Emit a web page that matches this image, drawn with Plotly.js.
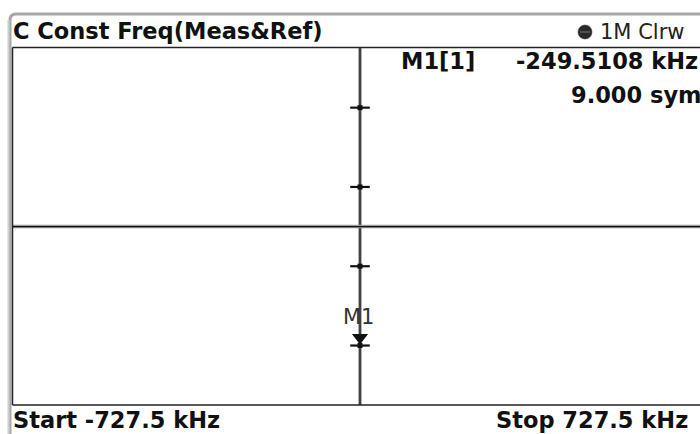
<!DOCTYPE html>
<html>
<head>
<meta charset="utf-8">
<script src="https://cdn.plot.ly/plotly-3.0.1.min.js"></script>
<style>html,body{margin:0;padding:0;background:#fff;}#chart{width:700px;height:434px;}</style>
</head>
<body>
<div id="chart"></div>
<script>
// Frequency span (kHz)
const spanStart = -727.5;
const spanStop = 727.5;
// Trace (symbol decision path) values
const traceX = [0, 0, 0, 0, 0, 0];
const traceY = [4.53, 3, 1, -1, -3, -4.5];
// Symbol points
const symbolX = [0, 0, 0, 0];
const symbolY = [3, 1, -1, -3];
// Marker M1
const markerName = ['M1'];
const markerX = [0];
const markerY = [-2.8];
const markerFreq = '-249.5108 kHz';
const markerSym = '9.000 sym';

// pixel helpers for frame decoration (plot area 12..700 x 47..405)
const L = 12, R = 700, T = 47, B = 405;
const px = v => (v - L) / (R - L);
const py = v => (B - v) / (B - T);

const font = 'DejaVu Sans, Verdana, sans-serif';

const traces = [
  {x: traceX, y: traceY, mode: 'lines', line: {color: '#9a9a9a', width: 3.5}, hoverinfo: 'skip', showlegend: false},
  {x: traceX, y: traceY, mode: 'lines', line: {color: '#111', width: 1.3}, hoverinfo: 'skip', showlegend: false},
  {x: symbolX, y: symbolY, mode: 'markers', marker: {symbol: 'line-ew-open', size: 14, color: '#111', line: {color: '#111', width: 2.2}}, showlegend: false},
  {x: symbolX, y: symbolY, mode: 'markers', marker: {symbol: 'square', size: 5, color: '#111'}, showlegend: false},
  {x: markerX, y: markerY, mode: 'markers', marker: {symbol: 'triangle-down', size: 14, color: '#111'}, showlegend: false}
];

const layout = {
  width: 700, height: 434,
  margin: {l: L, r: 700 - R, t: T, b: 434 - B, pad: 0},
  paper_bgcolor: '#fff', plot_bgcolor: '#fff',
  showlegend: false,
  xaxis: {range: [spanStart, spanStart + (spanStop - spanStart) * (R - L) / 696], showgrid: false, zeroline: false, showticklabels: false, ticks: '', showline: false, fixedrange: true},
  yaxis: {range: [-4.5, 4.53], showgrid: false, zeroline: false, showticklabels: false, ticks: '', showline: false, fixedrange: true},
  shapes: [
    // horizontal centre line
    {type: 'line', xref: 'paper', yref: 'y', x0: 0, x1: 1, y0: 0, y1: 0, line: {color: '#9a9a9a', width: 3.5}},
    {type: 'line', xref: 'paper', yref: 'y', x0: 0, x1: 1, y0: 0, y1: 0, line: {color: '#111', width: 1.3}},
    // outer grey frame: left strip + rounded top
    {type: 'path', xref: 'paper', yref: 'paper', path: `M ${px(10)} ${py(434)} L ${px(10)} ${py(20)} Q ${px(10)} ${py(14)} ${px(16)} ${py(14)} L ${px(702)} ${py(14)}`, line: {color: '#a8a8a8', width: 3}},
    {type: 'line', xref: 'paper', yref: 'paper', x0: px(8.5), x1: px(8.5), y0: py(20), y1: py(434), line: {color: '#d0d0d0', width: 2}},
    // plot frame lines
    {type: 'line', xref: 'paper', yref: 'paper', x0: px(12.5), x1: px(702), y0: py(47.5), y1: py(47.5), line: {color: '#222', width: 1.5}},
    {type: 'line', xref: 'paper', yref: 'paper', x0: px(12.5), x1: px(702), y0: py(405), y1: py(405), line: {color: '#222', width: 1.5}},
    {type: 'line', xref: 'paper', yref: 'paper', x0: px(12.5), x1: px(12.5), y0: py(47.5), y1: py(405), line: {color: '#222', width: 1.5}},
    // trace indicator dot
    {type: 'circle', xref: 'paper', yref: 'paper', x0: px(578), x1: px(592), y0: py(25), y1: py(39), fillcolor: '#2a2a2a', line: {color: '#2a2a2a', width: 0.5}},
    {type: 'line', xref: 'paper', yref: 'paper', x0: px(580), x1: px(590), y0: py(32), y1: py(32), line: {color: '#777', width: 1}}
  ],
  annotations: [
    {xref: 'paper', yref: 'paper', x: px(11), y: py(31), xanchor: 'left', yanchor: 'middle', showarrow: false, text: 'C Const Freq(Meas&amp;Ref)', font: {family: font, size: 22.5, color: '#111', weight: 'bold'}},
    {xref: 'paper', yref: 'paper', x: px(598), y: py(32), xanchor: 'left', yanchor: 'middle', showarrow: false, text: '1M Clrw', font: {family: font, size: 21, color: '#222'}},
    {xref: 'paper', yref: 'paper', x: px(399), y: py(61), xanchor: 'left', yanchor: 'middle', showarrow: false, text: 'M1[1]', font: {family: font, size: 22.5, color: '#111', weight: 'bold'}},
    {xref: 'paper', yref: 'paper', x: px(514), y: py(61), xanchor: 'left', yanchor: 'middle', showarrow: false, text: markerFreq, font: {family: font, size: 22.5, color: '#111', weight: 'bold'}},
    {xref: 'paper', yref: 'paper', x: px(569), y: py(95), xanchor: 'left', yanchor: 'middle', showarrow: false, text: markerSym, font: {family: font, size: 22.5, color: '#111', weight: 'bold'}},
    {xref: 'paper', yref: 'paper', x: px(11), y: py(420), xanchor: 'left', yanchor: 'middle', showarrow: false, text: 'Start ' + spanStart.toFixed(1) + ' kHz', font: {family: font, size: 22.5, color: '#111', weight: 'bold'}},
    {xref: 'paper', yref: 'paper', x: px(494), y: py(420), xanchor: 'left', yanchor: 'middle', showarrow: false, text: 'Stop ' + spanStop.toFixed(1) + ' kHz', font: {family: font, size: 22.5, color: '#111', weight: 'bold'}},
    {xref: 'x', yref: 'y', x: markerX[0], y: markerY[0], xanchor: 'center', yanchor: 'middle', xshift: -2, yshift: 21, showarrow: false, text: markerName[0], font: {family: font, size: 21, color: '#333'}}
  ]
};

Plotly.newPlot('chart', traces, layout, {displayModeBar: false, staticPlot: true});
</script>
</body>
</html>
